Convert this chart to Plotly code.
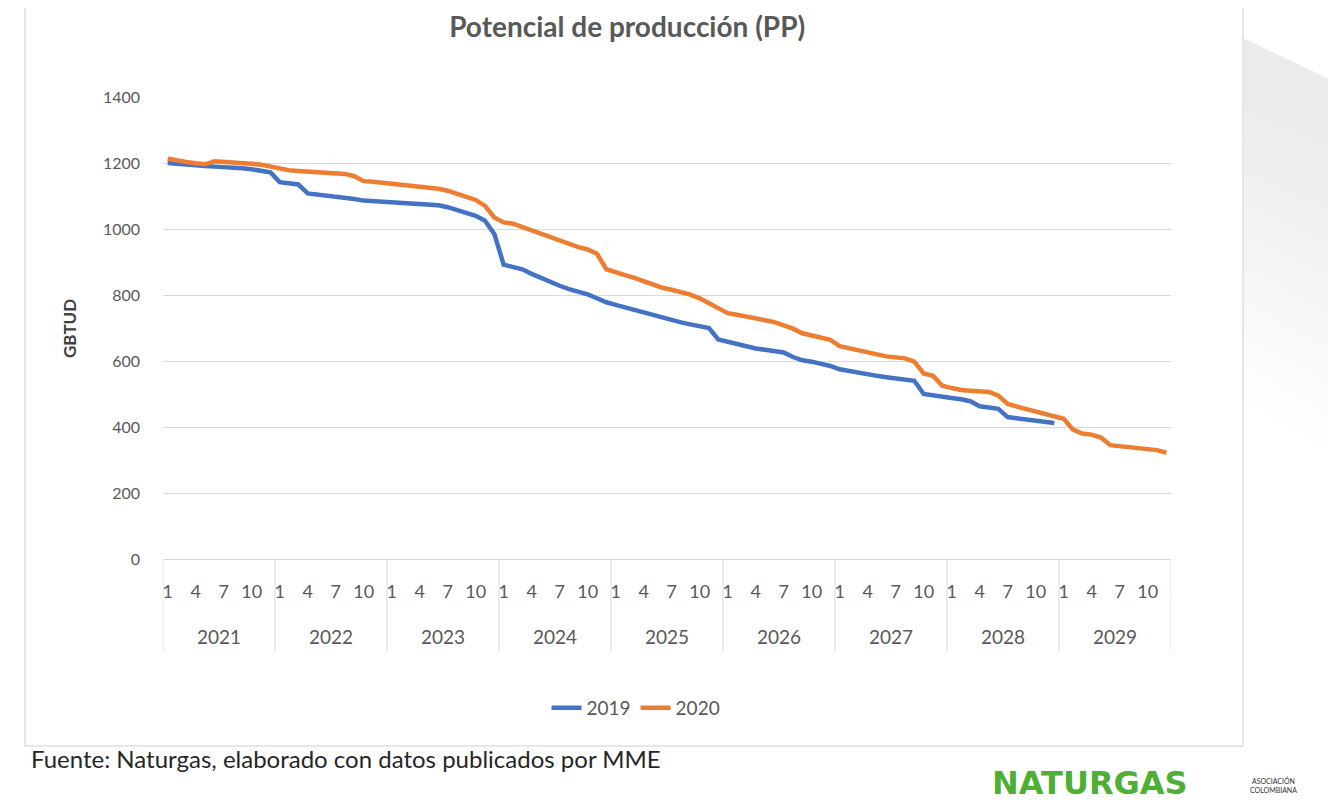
import plotly.graph_objects as go

years = [2021, 2022, 2023, 2024, 2025, 2026, 2027, 2028, 2029]
month_ticks = [1, 4, 7, 10]

# Serie 2019 (GBTUD), mensual 2021-2028
pp_2019 = [
    1200, 1197, 1195, 1193, 1191, 1189, 1188, 1186, 1184, 1181, 1178, 1172,   # 2021
    1142, 1138, 1135, 1108, 1105, 1103, 1100, 1096, 1091, 1086, 1084, 1083,   # 2022
    1081, 1080, 1078, 1077, 1075, 1072, 1066, 1058, 1050, 1040, 1025, 985,    # 2023
    892, 885, 878, 864, 852, 838, 828, 818, 810, 802, 790, 778,               # 2024
    770, 762, 754, 747, 740, 732, 724, 717, 711, 705, 700, 665,               # 2025
    658, 652, 645, 638, 634, 630, 626, 612, 602, 598, 592, 585,               # 2026
    575, 570, 562, 558, 555, 551, 548, 545, 540, 500, 497, 493,               # 2027
    488, 484, 478, 463, 460, 455, 430, 427, 424, 421, 417, 412,               # 2028
]

# Serie 2020 (GBTUD), mensual 2021-2029
pp_2020 = [
    1213, 1207, 1203, 1199, 1196, 1205, 1204, 1202, 1200, 1198, 1195, 1190,   # 2021
    1182, 1178, 1176, 1174, 1173, 1171, 1169, 1167, 1160, 1145, 1143, 1140,   # 2022
    1138, 1135, 1133, 1131, 1128, 1122, 1116, 1108, 1097, 1088, 1070, 1035,   # 2023
    1020, 1016, 1006, 996, 984, 975, 965, 956, 945, 938, 925, 878,            # 2024
    868, 860, 852, 842, 830, 822, 816, 810, 801, 790, 775, 760,               # 2025
    745, 740, 735, 730, 725, 718, 708, 698, 684, 678, 672, 664,               # 2026
    645, 638, 632, 626, 620, 614, 610, 608, 598, 562, 555, 525,               # 2027
    518, 512, 510, 508, 506, 495, 470, 462, 455, 447, 442, 435,               # 2028
    425, 392, 380, 377, 368, 345, 342, 340, 337, 334, 330, 322,               # 2029
]

series = [("2019", pp_2019, "#4472C4"), ("2020", pp_2020, "#ED7D31")]

# page offset of the figure (browser body margin)
OFF = 8
W, H = 1336 - OFF, 804 - OFF
# plot area in page pixels
L, R, T, B = 163, 1171, 97, 559


def px(x):
    return (x - L) / (R - L)


def py(y):
    return (B - y) / (B - T)


TXT = "#595959"
GRID = "#d9d9d9"
FONT = "Lato, 'Open Sans', sans-serif"

fig = go.Figure()
for name, vals, col in series:
    fig.add_trace(go.Scatter(
        x=list(range(len(vals))), y=vals, mode="lines", name=name,
        line=dict(color=col, width=4.5),
    ))

n_total = len(years) * 12
tickvals = [i * 12 + (m - 1) for i in range(len(years)) for m in month_ticks]
ticktext = [str(m) for _ in years for m in month_ticks]

shapes = []
# right-side slide decoration (soft gray gradient built from stacked translucent bands)
for k in range(10):
    bottom_l = 110 + k * 32
    bottom_r = 150 + k * 34
    shapes.append(dict(type="path", xref="paper", yref="paper",
                       path=(f"M {px(1244)},{py(38)} L {px(1340)},{py(84)} "
                             f"L {px(1340)},{py(bottom_r)} L {px(1244)},{py(bottom_l)} Z"),
                       fillcolor="rgba(0,0,0,0.0065)", line=dict(width=0), layer="below"))
# chart container box
shapes.append(dict(type="rect", xref="paper", yref="paper",
                   x0=px(25), x1=px(1243), y0=py(746), y1=py(-2),
                   line=dict(color="#e0e0e0", width=1.5), fillcolor="white", layer="below"))
# year dividers
for k in range(len(years) + 1):
    shapes.append(dict(type="line", xref="x", yref="paper",
                       x0=k * 12 - 0.5, x1=k * 12 - 0.5, y0=0, y1=py(652),
                       line=dict(color=GRID, width=1)))

annotations = []
for k, yr in enumerate(years):
    annotations.append(dict(x=k * 12 + 5.5, xref="x", y=py(636), yref="paper",
                            xanchor="center", yanchor="middle",
                            text=str(yr), showarrow=False,
                            font=dict(size=19, color=TXT, family=FONT)))
annotations.append(dict(x=px(69), xref="paper", y=py(329), yref="paper",
                        xanchor="center", yanchor="middle",
                        text="<b>GBTUD</b>", textangle=-90, showarrow=False,
                        font=dict(size=17, color="#404040", family=FONT)))
annotations.append(dict(x=px(29), xref="paper", xanchor="left", y=py(758), yref="paper",
                        yanchor="middle",
                        text="Fuente: Naturgas, elaborado con datos publicados por MME",
                        showarrow=False, font=dict(size=24, color="#262626", family=FONT)))
annotations.append(dict(x=px(990), xref="paper", xanchor="left", y=py(783), yref="paper",
                        yanchor="middle", text="<b>NATURGAS</b>", showarrow=False,
                        font=dict(size=32, color="#4fae34", family="'DejaVu Sans', sans-serif")))
annotations.append(dict(x=px(1248), xref="paper", xanchor="left", y=py(785), yref="paper",
                        yanchor="middle", text="ASOCIACIÓN<br>COLOMBIANA", showarrow=False,
                        font=dict(size=7, color="#333333", family=FONT)))

fig.update_layout(
    width=W, height=H,
    margin=dict(l=L - OFF, r=W - (R - OFF), t=T - OFF, b=H - (B - OFF), autoexpand=False),
    paper_bgcolor="white", plot_bgcolor="rgba(0,0,0,0)",
    title=dict(text="Potencial de producción (PP)", x=px(633), xanchor="center",
               y=1 - 19 / H, yanchor="middle",
               font=dict(size=28, color=TXT, family=FONT, weight="bold")),
    font=dict(family=FONT, color=TXT),
    showlegend=True,
    legend=dict(orientation="h", x=px(636), xanchor="center", y=py(708), yanchor="middle",
                font=dict(size=19, color=TXT, family=FONT), bgcolor="rgba(0,0,0,0)"),
    shapes=shapes, annotations=annotations,
)
fig.update_xaxes(range=[-0.5, n_total - 0.5], tickvals=tickvals, ticktext=ticktext,
                 showgrid=False, zeroline=False, showline=True, linecolor=GRID, linewidth=1,
                 ticks="", ticklabelstandoff=16, tickfont=dict(size=18, color=TXT, family=FONT))
fig.update_yaxes(range=[0, 1400], dtick=200, showgrid=True, gridcolor=GRID, gridwidth=1,
                 zeroline=False, showline=False, ticks="", ticklabelstandoff=22,
                 tickfont=dict(size=16, color=TXT, family=FONT))

fig.write_html("out.html")
